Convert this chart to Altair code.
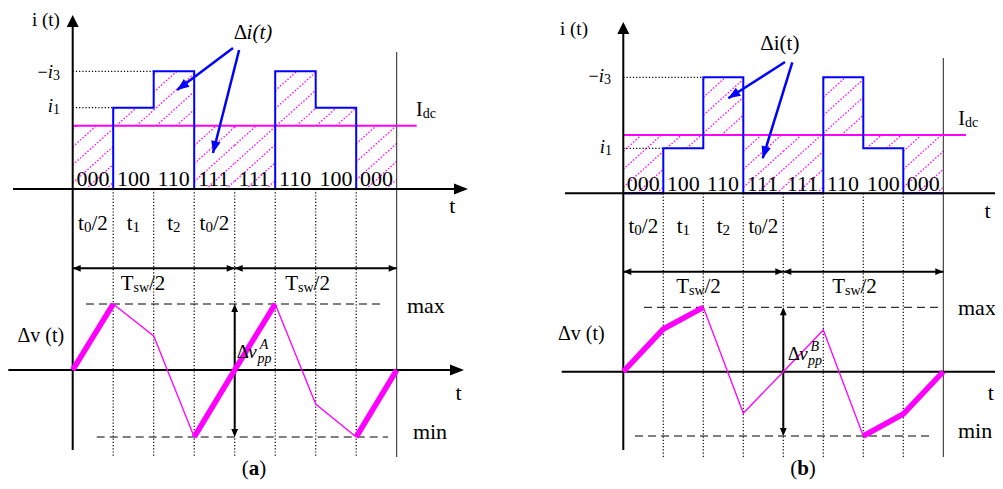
import math
import altair as alt
import pandas as pd

# ---------------- values ----------------
EDGES = [0, 1, 2, 3, 4, 5, 6, 7, 8]                      # switching instants (sub-interval units)
STATES = ["000", "100", "110", "111", "111", "110", "100", "000"]
TIME_SUBS = [("0", "/2"), ("1", ""), ("2", ""), ("0", "/2")]

# panel (a)
A_I1, A_I3, A_IDC = 81.3, 117.7, 63.3                    # i1, -i3, Idc levels
A_STEP = [0, A_I1, A_I3, 0, 0, A_I3, A_I1, 0]            # i(t) per sub-interval
A_DV = [0, 66, 34, -67, 0, 66, -34, -67, 0]              # Δv(t) at switching instants
A_THICK = [1, 0, 0, 1, 1, 0, 0, 1]                       # bold segments of Δv(t)

# panel (b)
B_I1, B_I3, B_IDC = 45.0, 116.0, 58.3
B_STEP = [0, B_I1, B_I3, 0, 0, B_I3, B_I1, 0]
B_DV = [0, 42.7, 64.4, -41.6, 0, 41.7, -64.3, -42.3, 0]
B_THICK = [1, 1, 0, 0, 0, 0, 1, 1]

# ---------------- style ----------------
FONT = "Liberation Serif"
BLUE, MAG, BLK = "#0000ff", "#ff00ff", "#000000"
H = 473
NB = "\u00a0"

EM = {c: 0.5 for c in "0123456789"}
EM.update({"t": 0.278, "/": 0.278, "i": 0.278, "(": 0.333, ")": 0.333, " ": 0.25,
           NB: 0.25, "Δ": 0.612, "v": 0.5, "I": 0.333, "d": 0.5, "c": 0.444,
           "s": 0.389, "w": 0.722, "T": 0.611, "m": 0.778, "a": 0.444, "x": 0.5,
           "n": 0.5, "p": 0.5, "A": 0.722, "B": 0.667, "−": 0.564, "b": 0.5})
EM_IT = {"v": 0.444, "A": 0.611, "B": 0.611}
EM_BD = {"a": 0.5, "b": 0.556}

AX_UP = "M0,0L-1,2L1,2Z"
AX_RIGHT = "M0,0L-2,-0.8L-2,0.8Z"
SM_RIGHT = "M0,0L-2,-0.85L-2,0.85Z"
SM_LEFT = "M0,0L2,-0.85L2,0.85Z"
SM_UP = "M0,0L-0.85,2L0.85,2Z"
SM_DOWN = "M0,0L-0.85,-2L0.85,-2Z"
BL_UP = "M0,0L-0.8,2L0.8,2Z"


def run_width(txt, size, style):
    tab = EM_IT if style == "italic" else EM_BD if style == "bold" else {}
    return sum(tab.get(ch, EM.get(ch, 0.5)) for ch in txt) * size


def rich(rows, t, y, runs, dt, align="left"):
    ws = [run_width(r[0], r[1], r[2]) for r in runs]
    off = {"left": 0, "center": -sum(ws) / 2, "right": -sum(ws)}[align]
    for (txt, size, style, dy), w in zip(runs, ws):
        rows.append(dict(t=t + off / dt, y=y - dy, text=txt, size=size, style=style))
        off += w


PANELS = [
    dict(w=520, xdom=[-1.5975, 11.242], ydom=[-292, 181], dt=40.5, dv_off=-181.0,
         i1=A_I1, i3=A_I3, idc=A_IDC, step=A_STEP, dv=A_DV, thick=A_THICK,
         yaxis_top=174, yaxis_bot=-261, bound_top=137, bound_bot=-268,
         iax=(-1.474, 9.76, True), vax=(-1.59, 9.662, True), idc_end=8.494,
         tsw_y=-79.3, max_span=(0.328, 7.588), min_span=(0.593, 7.785),
         arrows=[(3.958, 141, 2.578, 99), (4.109, 139, 3.464, 36)],
         state_y=3.3, time_y=-41, tsw_c=(1.736, 5.798), tsw_yb=-101,
         labels=[
             (-0.662, 163.5, [("i" + NB + "(t)", 19, "normal", 0)], "center"),
             (-0.314, 111.3, [("−", 18, "normal", 0), ("i", 19, "italic", 0), ("3", 14, "normal", 2)], "right"),
             (-0.314, 77.5, [("i", 19, "italic", 0), ("1", 14, "normal", 2)], "right"),
             (4.452, 150.5, [("Δ", 21, "normal", 0), ("i(t)", 21, "italic", 0)], "center"),
             (8.477, 73.3, [("I", 20, "normal", 0), ("dc", 14, "normal", 2)], "left"),
             (9.37, -24, [("t", 22, "normal", 0)], "center"),
             (9.526, -211, [("t", 22, "normal", 0)], "center"),
             (-0.795, -152.5, [("Δv" + NB + "(t)", 20, "normal", 0)], "center"),
             (8.254, -124, [("max", 22, "normal", 0)], "left"),
             (8.4, -250, [("min", 22, "normal", 0)], "left"),
             (4.05, -169, [("Δ", 19, "normal", 0), ("v", 19, "italic", 0)], "left"),
             (4.62, -159.5, [("A", 14, "italic", 0)], "left"),
             (4.56, -173.5, [("pp", 14, "italic", 0)], "left"),
             (4.477, -285.5, [("(", 21, "normal", 0), ("a", 21, "bold", 0), (")", 21, "normal", 0)], "center"),
         ]),
    dict(w=467, xdom=[-2.3825, 9.2925], ydom=[-287.7, 185.3], dt=40.0, dv_off=-178.4,
         i1=B_I1, i3=B_I3, idc=B_IDC, step=B_STEP, dv=B_DV, thick=B_THICK,
         yaxis_top=171.3, yaxis_bot=-256.7, bound_top=135.3, bound_bot=-263.7,
         iax=(-1.4575, 9.6, False), vax=(-1.54, 9.6, False), idc_end=8.5675,
         tsw_y=-78.4, max_span=(0.5175, 7.9175), min_span=(0.2925, 7.6675),
         arrows=[(4.0425, 131.3, 2.625, 95), (4.225, 131, 3.485, 35)],
         state_y=2.8, time_y=-39.7, tsw_c=(1.88, 5.78), tsw_yb=-99.7,
         labels=[
             (-1.2325, 158.3, [("i" + NB + "(t)", 19, "normal", 0)], "center"),
             (-0.3075, 111.8, [("−", 18, "normal", 0), ("i", 19, "italic", 0), ("3", 14, "normal", 2)], "right"),
             (-0.2825, 40.8, [("i", 19, "italic", 0), ("1", 14, "normal", 2)], "right"),
             (3.905, 143.8, [("Δi(t)", 21, "normal", 0)], "center"),
             (8.375, 68.3, [("I", 20, "normal", 0), ("dc", 14, "normal", 2)], "left"),
             (9.105, -24.7, [("t", 22, "normal", 0)], "center"),
             (9.19, -206.7, [("t", 22, "normal", 0)], "center"),
             (-1.0575, -146.7, [("Δv" + NB + "(t)", 20, "normal", 0)], "center"),
             (8.3675, -121.7, [("max", 22, "normal", 0)], "left"),
             (8.3675, -244.7, [("min", 22, "normal", 0)], "left"),
             (4.11, -166.7, [("Δ", 19, "normal", 0), ("v", 19, "italic", 0)], "left"),
             (4.68, -157.5, [("B", 14, "italic", 0)], "left"),
             (4.62, -171.2, [("pp", 14, "italic", 0)], "left"),
             (4.4925, -281.2, [("(", 21, "normal", 0), ("b", 21, "bold", 0), (")", 21, "normal", 0)], "center"),
         ]),
]


def build_panel(p):
    dt = p["dt"]
    xs = alt.Scale(domain=p["xdom"], nice=False, zero=False)
    ys = alt.Scale(domain=p["ydom"], nice=False, zero=False)

    def enc(rule=False):
        e = dict(x=alt.X("t:Q", scale=xs, axis=None), y=alt.Y("y:Q", scale=ys, axis=None))
        if rule:
            e["x2"] = alt.X2("t2:Q")
            e["y2"] = alt.Y2("y2:Q")
        return e

    def rules(rows, **mk):
        return alt.Chart(pd.DataFrame(rows)).mark_rule(**mk).encode(**enc(True))

    layers = []

    # hatching of Δi(t) between i(t) and Idc
    m, gap = 0.9, 20.0
    hatch = []
    for k, lev in enumerate(p["step"]):
        lo, hi = sorted((lev, p["idc"]))
        X0, X1 = EDGES[k] * dt, EDGES[k + 1] * dt
        for j in range(-25, 12):
            c = j * gap * m + 6
            a = max(X0, (lo - c) / m)
            b = min(X1, (hi - c) / m)
            if b - a > 0.8:
                hatch.append(dict(t=a / dt, y=m * a + c, t2=b / dt, y2=m * b + c))
    layers.append(rules(hatch, color=MAG, strokeWidth=1.3, strokeDash=[1.5, 1.8]))

    # dotted guides
    dots = [dict(t=e, y=0, t2=e, y2=p["bound_bot"]) for e in EDGES[1:-1]]
    dots += [dict(t=0, y=p["i3"], t2=2, y2=p["i3"]), dict(t=0, y=p["i1"], t2=1, y2=p["i1"])]
    layers.append(rules(dots, color=BLK, strokeWidth=1.2, strokeDash=[1.2, 2]))

    # right boundary
    layers.append(rules([dict(t=8, y=p["bound_top"], t2=8, y2=p["bound_bot"])],
                        color="#222222", strokeWidth=1))

    # Idc
    layers.append(rules([dict(t=0, y=p["idc"], t2=p["idc_end"], y2=p["idc"])],
                        color=MAG, strokeWidth=2))

    # i(t) step waveform
    step_df = pd.DataFrame(dict(t=EDGES, y=p["step"] + [p["step"][-1]]))
    layers.append(alt.Chart(step_df).mark_line(interpolate="step-after", color=BLUE,
                                               strokeWidth=2).encode(**enc()))

    # axes
    i0, i1, _ = p["iax"]
    v0, v1, _ = p["vax"]
    axes = [dict(t=0, y=p["yaxis_top"] - 4, t2=0, y2=p["yaxis_bot"]),
            dict(t=i0, y=0, t2=i1 - 0.1, y2=0),
            dict(t=v0, y=p["dv_off"], t2=v1 - 0.1, y2=p["dv_off"])]
    layers.append(rules(axes, color=BLK, strokeWidth=2, clip=True))

    # dashed max / min
    dmax = max(p["dv"]) + p["dv_off"]
    dmin = min(p["dv"]) + p["dv_off"]
    dash = [dict(t=p["max_span"][0], y=dmax, t2=p["max_span"][1], y2=dmax),
            dict(t=p["min_span"][0], y=dmin, t2=p["min_span"][1], y2=dmin)]
    layers.append(rules(dash, color=BLK, strokeWidth=1, strokeDash=[8, 5]))

    # Tsw/2 and Δv_pp dimension lines
    dims = [dict(t=0, y=p["tsw_y"], t2=4, y2=p["tsw_y"]),
            dict(t=4, y=p["tsw_y"], t2=8, y2=p["tsw_y"]),
            dict(t=4, y=dmax - 3, t2=4, y2=dmin + 3)]
    layers.append(rules(dims, color=BLK, strokeWidth=2))

    # Δv(t) waveform: thin and bold runs
    runs = []
    rid = 0
    k = 0
    while k < len(p["thick"]):
        j = k
        while j + 1 < len(p["thick"]) and p["thick"][j + 1] == p["thick"][k]:
            j += 1
        for q in range(k, j + 2):
            runs.append(dict(run=rid, o=q, t=EDGES[q], y=p["dv"][q] + p["dv_off"],
                             w=p["thick"][k]))
        rid += 1
        k = j + 1
    rdf = pd.DataFrame(runs)
    for wflag, sw in ((0, 1.3), (1, 5.5)):
        layers.append(alt.Chart(rdf[rdf.w == wflag]).mark_line(
            color=MAG, strokeWidth=sw, strokeCap="butt", strokeJoin="miter"
        ).encode(detail="run:N", order="o:Q", **enc()))

    # blue annotation arrows
    arr = [dict(t=a[0], y=a[1], t2=a[2], y2=a[3]) for a in p["arrows"]]
    layers.append(rules(arr, color=BLUE, strokeWidth=2.5))

    # arrow heads
    heads = [dict(t=0, y=p["yaxis_top"], shape=AX_UP, size=144, angle=0, col=BLK)]
    if p["iax"][2]:
        heads.append(dict(t=i1, y=0, shape=AX_RIGHT, size=196, angle=0, col=BLK))
    if p["vax"][2]:
        heads.append(dict(t=v1, y=p["dv_off"], shape=AX_RIGHT, size=196, angle=0, col=BLK))
    for (tt, sh) in ((0, SM_LEFT), (4, SM_RIGHT), (4, SM_LEFT), (8, SM_RIGHT)):
        heads.append(dict(t=tt, y=p["tsw_y"], shape=sh, size=64, angle=0, col=BLK))
    heads.append(dict(t=4, y=dmax, shape=SM_UP, size=64, angle=0, col=BLK))
    heads.append(dict(t=4, y=dmin, shape=SM_DOWN, size=64, angle=0, col=BLK))
    for (ts, ysx, tt, yt) in p["arrows"]:
        dx = (tt - ts) * dt
        dy = -(yt - ysx)
        ang = math.degrees(math.atan2(dx, -dy)) % 360
        heads.append(dict(t=tt, y=yt, shape=BL_UP, size=144, angle=ang, col=BLUE))
    layers.append(alt.Chart(pd.DataFrame(heads)).mark_point(
        filled=True, opacity=1, strokeWidth=0, clip=True
    ).encode(shape=alt.Shape("shape:N", scale=None), size=alt.Size("size:Q", scale=None),
             angle=alt.Angle("angle:Q", scale=None), color=alt.Color("col:N", scale=None),
             **enc()))

    # text
    trows = []
    for k, s in enumerate(STATES):
        rich(trows, EDGES[k] + 0.5, p["state_y"], [(s, 22, "normal", 0)], dt, "center")
    for k, (sub, tail) in enumerate(TIME_SUBS):
        rr = [("t", 21, "normal", 0), (sub, 15, "normal", 2)]
        if tail:
            rr.append((tail, 21, "normal", 0))
        rich(trows, EDGES[k] + 0.5, p["time_y"], rr, dt, "center")
    for c in p["tsw_c"]:
        rich(trows, c, p["tsw_yb"],
             [("T", 21, "normal", 0), ("sw", 14, "normal", 2), ("/2", 21, "normal", 0)], dt, "center")
    for (tt, yy, rr, al) in p["labels"]:
        rich(trows, tt, yy, rr, dt, al)
    tdf = pd.DataFrame(trows)
    for style, fs, fw in (("normal", "normal", "normal"), ("italic", "italic", "normal"),
                          ("bold", "normal", "bold")):
        sub = tdf[tdf["style"] == style]
        if len(sub):
            layers.append(alt.Chart(sub).mark_text(
                align="left", baseline="alphabetic", font=FONT, fontStyle=fs,
                fontWeight=fw, color=BLK, clip=True
            ).encode(text="text:N", size=alt.Size("size:Q", scale=None), **enc()))

    return alt.layer(*layers).properties(width=p["w"], height=H)


chart = alt.hconcat(*[build_panel(p) for p in PANELS], spacing=0).properties(
    padding=0, background="white"
).configure_view(stroke=None)

chart.save("out.html", embed_options={"renderer": "svg", "actions": False})
